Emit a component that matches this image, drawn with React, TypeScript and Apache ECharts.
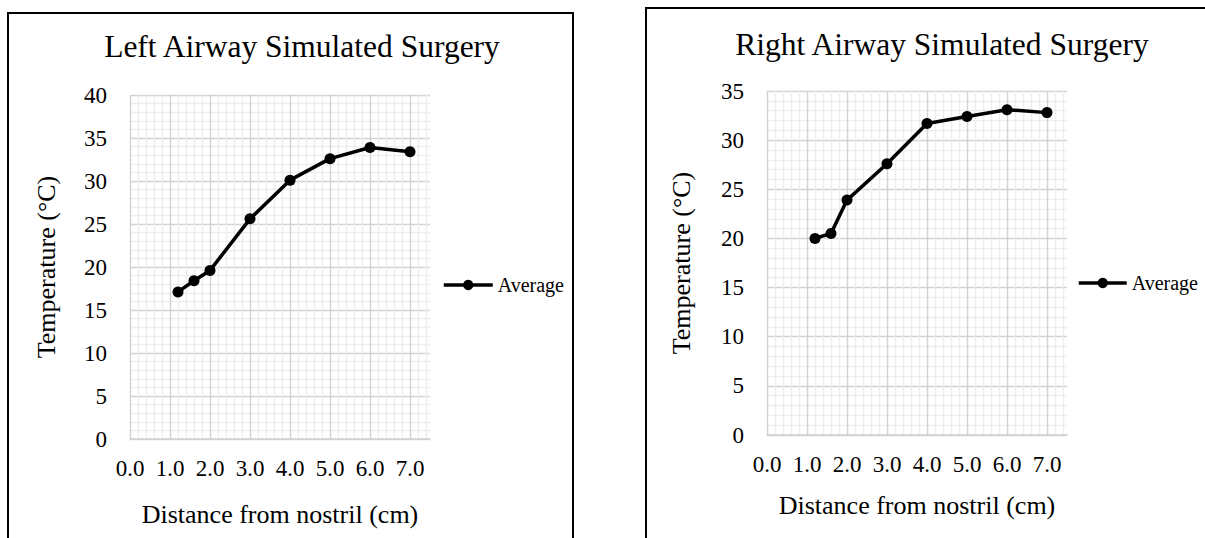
import React, { useEffect, useRef } from "react";
import * as echarts from "echarts";

const xValues = [1.2, 1.6, 2.0, 3.0, 4.0, 5.0, 6.0, 7.0];
const leftTemps = [17.1, 18.4, 19.6, 25.6, 30.1, 32.6, 33.9, 33.4];
const rightTemps = [20.0, 20.5, 23.9, 27.6, 31.7, 32.4, 33.1, 32.8];

const leftTitle = "Left Airway Simulated Surgery";
const rightTitle = "Right Airway Simulated Surgery";
const xName = "Distance from nostril (cm)";
const yName = "Temperature (°C)";
const seriesName = "Average";

const FONT = "'Liberation Serif', 'Times New Roman', serif";
const MAJOR = "#d3d3d3";
const MINOR = "#ededed";

function gridColors(count: number, every: number) {
  const arr: string[] = [];
  for (let i = 0; i < count; i++) arr.push(i % every === 0 ? MAJOR : MINOR);
  return arr;
}

function xAxis(gridIndex: number, nameGap: number) {
  return {
    type: "value",
    gridIndex,
    min: 0,
    max: 7.5,
    interval: 0.2,
    name: xName,
    nameLocation: "middle",
    nameGap,
    nameTextStyle: { fontFamily: FONT, fontSize: 26, color: "#000" },
    axisLine: { show: true, lineStyle: { color: "#cfcfcf", width: 1.5 } },
    axisTick: { show: false },
    axisLabel: {
      margin: 18,
      fontFamily: FONT,
      fontSize: 23,
      color: "#000",
      showMaxLabel: false,
      formatter: (v: number) =>
        Math.abs(v - Math.round(v)) < 1e-6 && v <= 7 ? v.toFixed(1) : "",
    },
    splitLine: {
      show: true,
      showMaxLine: false,
      lineStyle: { color: gridColors(38, 5), width: 1.4 },
    },
  };
}

function yAxis(gridIndex: number, max: number, nameGap: number) {
  return {
    type: "value",
    gridIndex,
    min: 0,
    max,
    interval: 1,
    name: yName,
    nameLocation: "middle",
    nameGap,
    nameTextStyle: { fontFamily: FONT, fontSize: 26, color: "#000" },
    axisLine: { show: false },
    axisTick: { show: false },
    axisLabel: {
      margin: 23,
      fontFamily: FONT,
      fontSize: 23,
      color: "#000",
      formatter: (v: number) => (Math.round(v) % 5 === 0 ? String(Math.round(v)) : ""),
    },
    splitLine: {
      show: true,
      lineStyle: { color: gridColors(max + 1, 5), width: 1.4 },
    },
  };
}

function lineSeries(idx: number, temps: number[]) {
  return {
    type: "line",
    name: seriesName,
    xAxisIndex: idx,
    yAxisIndex: idx,
    data: xValues.map((x, i) => [x, temps[i]]),
    symbol: "circle",
    symbolSize: 11,
    lineStyle: { color: "#000", width: 3.5 },
    itemStyle: { color: "#000" },
  };
}

function legend(left: number, top: number, width: number) {
  return {
    left,
    top,
    padding: 0,
    itemWidth: width,
    itemHeight: 13,
    itemGap: 0,
    data: [seriesName],
    lineStyle: { width: 3.5, color: "#000" },
    textStyle: { fontFamily: FONT, fontSize: 20, color: "#000", padding: [0, 0, 0, 0] },
  };
}

export default function App() {
  const ref = useRef<HTMLDivElement>(null);
  useEffect(() => {
    if (!ref.current) return;
    const chart = echarts.init(ref.current, undefined, { renderer: "svg" });
    chart.setOption({
      animation: false,
      backgroundColor: "#fff",
      grid: [
        { left: 130, top: 95, width: 300, height: 344 },
        { left: 767, top: 91, width: 300, height: 344 },
      ],
      xAxis: [xAxis(0, 62), xAxis(1, 57)],
      yAxis: [yAxis(0, 40, 71), yAxis(1, 35, 73)],
      legend: [legend(442, 275, 49), legend(1077, 273, 48)],
      series: [lineSeries(0, leftTemps), lineSeries(1, rightTemps)],
      graphic: [
        {
          type: "rect",
          shape: { x: 8, y: 13, width: 565, height: 600 },
          style: { fill: "none", stroke: "#000", lineWidth: 2 },
          silent: true,
        },
        {
          type: "rect",
          shape: { x: 646, y: 8, width: 620, height: 600 },
          style: { fill: "none", stroke: "#000", lineWidth: 2 },
          silent: true,
        },
        {
          type: "text",
          x: 302,
          y: 46,
          style: {
            text: leftTitle,
            align: "center",
            verticalAlign: "middle",
            fontFamily: FONT,
            fontSize: 31.5,
            fill: "#000",
          },
        },
        {
          type: "text",
          x: 942,
          y: 44,
          style: {
            text: rightTitle,
            align: "center",
            verticalAlign: "middle",
            fontFamily: FONT,
            fontSize: 31.5,
            fill: "#000",
          },
        },
      ],
    });
    return () => chart.dispose();
  }, []);
  return (
    <div
      ref={ref}
      style={{ position: "fixed", left: 0, top: 0, width: 1205, height: 538, background: "#fff" }}
    />
  );
}
